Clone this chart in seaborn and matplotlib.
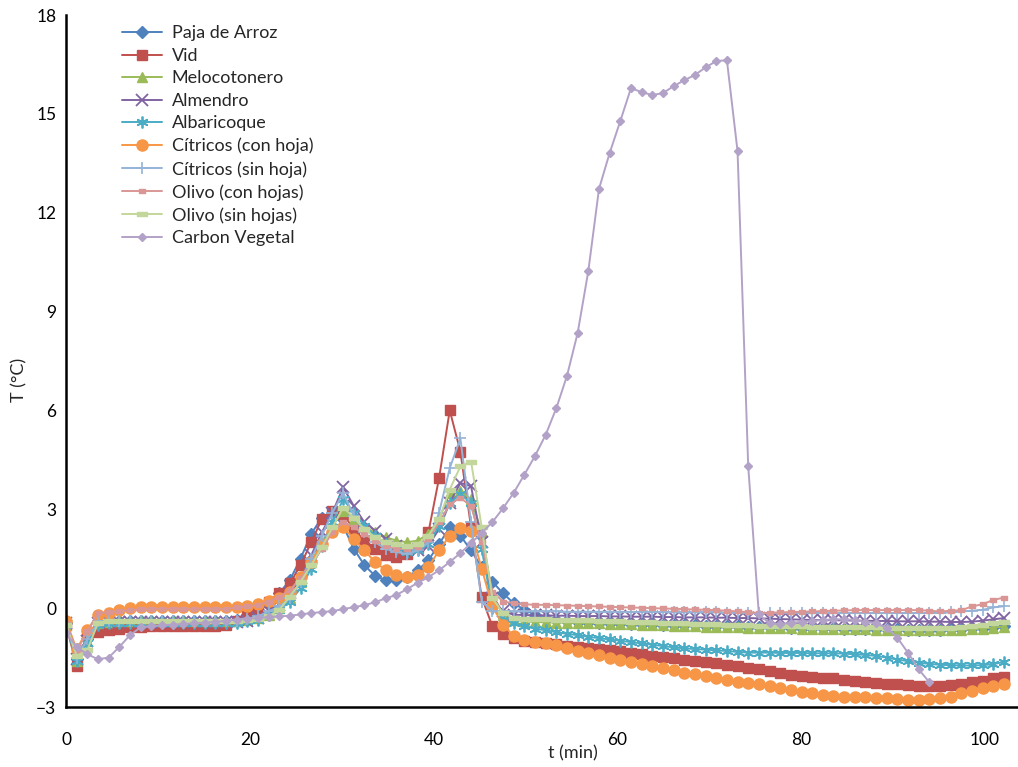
import matplotlib
matplotlib.use("Agg")
import matplotlib.pyplot as plt
import numpy as np
import seaborn as sns

# ── data: temperature increment (°C) logged every ~70 s ─────────────────────
STEP_MIN = 1.16

labels = [
    "Paja de Arroz", "Vid", "Melocotonero", "Almendro", "Albaricoque",
    "Cítricos (con hoja)", "Cítricos (sin hoja)", "Olivo (con hojas)",
    "Olivo (sin hojas)", "Carbon Vegetal",
]

paja = [
    -0.45, -1.55, -0.95, -0.45, -0.42, -0.40, -0.40, -0.40, -0.40, -0.40,
    -0.40, -0.40, -0.40, -0.40, -0.40, -0.40, -0.35, -0.20, -0.05, 0.15,
    0.45, 0.85, 1.50, 2.25, 2.75, 2.90, 2.50, 1.80, 1.30, 0.98,
    0.85, 0.85, 0.95, 1.15, 1.45, 1.95, 2.45, 2.20, 1.75, 1.25,
    0.80, 0.45, 0.15, -0.05, -0.20, -0.30, -0.36, -0.40, -0.42, -0.43,
    -0.44, -0.45, -0.46, -0.47, -0.48, -0.49, -0.50, -0.50, -0.51, -0.52,
    -0.53, -0.54, -0.55, -0.55, -0.56, -0.57, -0.58, -0.58, -0.59, -0.60,
    -0.60, -0.61, -0.61, -0.62, -0.62, -0.63, -0.63, -0.64, -0.64, -0.65,
    -0.65, -0.65, -0.65, -0.64, -0.63, -0.61, -0.59, -0.56, -0.53,
]
vid = [
    -0.50, -1.75, -0.80, -0.73, -0.67, -0.62, -0.58, -0.56, -0.55, -0.55,
    -0.55, -0.55, -0.55, -0.55, -0.55, -0.50, -0.40, -0.20, 0.00, 0.20,
    0.45, 0.75, 1.30, 2.00, 2.70, 2.95, 2.85, 2.40, 2.05, 1.80,
    1.60, 1.55, 1.65, 1.85, 2.30, 3.95, 6.00, 4.75, 2.45, 0.33,
    -0.55, -0.78, -0.90, -1.00, -1.04, -1.07, -1.10, -1.14, -1.17, -1.20,
    -1.24, -1.27, -1.31, -1.36, -1.40, -1.44, -1.48, -1.52, -1.56, -1.60,
    -1.64, -1.67, -1.72, -1.77, -1.82, -1.86, -1.92, -1.98, -2.03, -2.06,
    -2.09, -2.11, -2.13, -2.17, -2.20, -2.24, -2.27, -2.29, -2.31, -2.33,
    -2.36, -2.37, -2.36, -2.34, -2.30, -2.25, -2.20, -2.13, -2.08,
]
melocotonero = [
    -0.50, -1.60, -1.00, -0.45, -0.42, -0.40, -0.40, -0.40, -0.40, -0.40,
    -0.40, -0.40, -0.40, -0.40, -0.40, -0.40, -0.38, -0.35, -0.30, -0.20,
    0.00, 0.30, 0.80, 1.40, 2.00, 2.50, 2.95, 2.70, 2.45, 2.30,
    2.15, 2.05, 2.00, 2.05, 2.25, 2.70, 3.50, 3.55, 3.30, 2.30,
    0.40, -0.20, -0.35, -0.40, -0.42, -0.43, -0.44, -0.44, -0.45, -0.45,
    -0.46, -0.47, -0.48, -0.49, -0.50, -0.51, -0.52, -0.53, -0.54, -0.55,
    -0.56, -0.57, -0.58, -0.58, -0.59, -0.60, -0.60, -0.61, -0.61, -0.62,
    -0.62, -0.62, -0.63, -0.63, -0.64, -0.64, -0.65, -0.65, -0.66, -0.66,
    -0.67, -0.67, -0.67, -0.67, -0.66, -0.64, -0.62, -0.59, -0.56,
]
almendro = [
    -0.45, -1.55, -1.00, -0.45, -0.42, -0.42, -0.42, -0.42, -0.42, -0.42,
    -0.42, -0.42, -0.42, -0.42, -0.42, -0.42, -0.42, -0.38, -0.30, -0.10,
    0.10, 0.45, 0.90, 1.60, 2.30, 2.90, 3.67, 3.10, 2.60, 2.35,
    2.10, 1.90, 1.75, 1.75, 1.90, 2.40, 3.20, 3.80, 3.70, 2.00,
    0.30, -0.10, -0.20, -0.21, -0.22, -0.22, -0.23, -0.23, -0.24, -0.24,
    -0.24, -0.25, -0.25, -0.26, -0.26, -0.26, -0.27, -0.27, -0.28, -0.28,
    -0.28, -0.29, -0.29, -0.30, -0.30, -0.31, -0.32, -0.33, -0.34, -0.35,
    -0.36, -0.36, -0.37, -0.37, -0.38, -0.38, -0.39, -0.39, -0.40, -0.40,
    -0.40, -0.41, -0.41, -0.42, -0.42, -0.41, -0.38, -0.34, -0.30,
]
albaricoque = [
    -0.50, -1.60, -1.05, -0.50, -0.45, -0.45, -0.45, -0.45, -0.45, -0.45,
    -0.45, -0.45, -0.45, -0.45, -0.45, -0.45, -0.45, -0.40, -0.35, -0.20,
    -0.05, 0.20, 0.60, 1.20, 1.90, 2.60, 3.30, 2.90, 2.50, 2.20,
    1.95, 1.80, 1.70, 1.75, 1.95, 2.50, 3.20, 3.45, 3.20, 1.80,
    0.00, -0.35, -0.46, -0.55, -0.62, -0.67, -0.73, -0.78, -0.82, -0.87,
    -0.91, -0.95, -0.99, -1.03, -1.07, -1.11, -1.15, -1.19, -1.22, -1.24,
    -1.26, -1.28, -1.30, -1.33, -1.35, -1.35, -1.35, -1.36, -1.36, -1.36,
    -1.37, -1.37, -1.37, -1.38, -1.40, -1.42, -1.45, -1.50, -1.56, -1.61,
    -1.66, -1.69, -1.72, -1.73, -1.74, -1.74, -1.73, -1.70, -1.63,
]
citricos_con = [
    -0.38, -1.25, -0.67, -0.20, -0.15, -0.06, 0.00, 0.03, 0.03, 0.03,
    0.03, 0.03, 0.03, 0.03, 0.03, 0.03, 0.03, 0.08, 0.12, 0.22,
    0.30, 0.50, 0.95, 1.40, 1.95, 2.30, 2.47, 2.10, 1.75, 1.40,
    1.15, 1.00, 0.95, 1.00, 1.25, 1.75, 2.20, 2.42, 2.35, 1.20,
    0.05, -0.50, -0.85, -0.97, -1.02, -1.07, -1.12, -1.22, -1.30, -1.36,
    -1.43, -1.50, -1.58, -1.63, -1.70, -1.76, -1.82, -1.87, -1.97, -2.00,
    -2.06, -2.12, -2.18, -2.23, -2.28, -2.30, -2.37, -2.43, -2.48, -2.54,
    -2.58, -2.64, -2.67, -2.70, -2.70, -2.70, -2.73, -2.73, -2.76, -2.79,
    -2.79, -2.76, -2.73, -2.70, -2.58, -2.52, -2.43, -2.37, -2.30,
]
citricos_sin = [
    -0.45, -1.50, -0.95, -0.40, -0.38, -0.38, -0.38, -0.38, -0.38, -0.38,
    -0.38, -0.38, -0.38, -0.38, -0.38, -0.38, -0.38, -0.33, -0.25, -0.10,
    0.05, 0.30, 0.80, 1.50, 2.20, 2.90, 3.50, 2.80, 2.30, 2.00,
    1.80, 1.70, 1.65, 1.75, 2.00, 2.90, 4.25, 5.15, 2.60, 0.20,
    -0.10, -0.10, -0.10, -0.10, -0.10, -0.10, -0.10, -0.11, -0.11, -0.11,
    -0.11, -0.11, -0.12, -0.12, -0.12, -0.12, -0.12, -0.13, -0.13, -0.13,
    -0.13, -0.13, -0.14, -0.14, -0.15, -0.15, -0.15, -0.15, -0.15, -0.15,
    -0.15, -0.15, -0.15, -0.15, -0.15, -0.15, -0.15, -0.15, -0.15, -0.15,
    -0.15, -0.15, -0.14, -0.13, -0.10, -0.08, -0.05, 0.02, 0.06,
]
olivo_con = [
    -0.45, -1.30, -0.70, -0.15, -0.12, -0.10, -0.06, -0.04, -0.02, -0.02,
    -0.02, -0.02, -0.02, -0.02, -0.02, -0.02, 0.02, 0.05, 0.10, 0.20,
    0.35, 0.55, 0.90, 1.30, 1.80, 2.30, 2.60, 2.45, 2.25, 2.05,
    1.90, 1.80, 1.80, 1.85, 2.10, 2.60, 3.15, 3.35, 3.10, 2.00,
    0.50, 0.20, 0.15, 0.12, 0.10, 0.10, 0.09, 0.08, 0.07, 0.06,
    0.05, 0.04, 0.03, 0.02, 0.01, 0.00, -0.01, -0.02, -0.03, -0.04,
    -0.05, -0.06, -0.08, -0.10, -0.12, -0.15, -0.14, -0.13, -0.12, -0.11,
    -0.10, -0.09, -0.08, -0.07, -0.06, -0.06, -0.06, -0.06, -0.06, -0.06,
    -0.06, -0.08, -0.10, -0.08, -0.06, 0.05, 0.12, 0.25, 0.32,
]
olivo_sin = [
    -0.50, -1.45, -1.27, -0.45, -0.40, -0.38, -0.38, -0.38, -0.38, -0.38,
    -0.38, -0.38, -0.38, -0.38, -0.38, -0.38, -0.38, -0.36, -0.33, -0.25,
    -0.05, 0.35, 0.80, 1.30, 1.85, 2.45, 3.05, 2.75, 2.40, 2.15,
    2.00, 1.95, 1.90, 1.95, 2.20, 2.70, 3.60, 4.30, 4.45, 2.45,
    0.30, -0.15, -0.30, -0.32, -0.33, -0.34, -0.35, -0.36, -0.37, -0.37,
    -0.38, -0.39, -0.40, -0.41, -0.42, -0.43, -0.44, -0.45, -0.46, -0.47,
    -0.48, -0.49, -0.50, -0.51, -0.52, -0.53, -0.54, -0.54, -0.55, -0.55,
    -0.56, -0.56, -0.57, -0.57, -0.57, -0.58, -0.58, -0.59, -0.59, -0.60,
    -0.60, -0.60, -0.60, -0.59, -0.57, -0.54, -0.50, -0.46, -0.42,
]
carbon = [
    -0.76, -1.18, -1.40, -1.55, -1.50, -1.18, -0.82, -0.58, -0.55, -0.52,
    -0.50, -0.48, -0.46, -0.44, -0.42, -0.38, -0.35, -0.32, -0.30, -0.27,
    -0.25, -0.23, -0.19, -0.15, -0.12, -0.09, -0.03, 0.03, 0.09, 0.18,
    0.30, 0.40, 0.58, 0.77, 0.94, 1.15, 1.40, 1.67, 1.97, 2.28,
    2.61, 3.03, 3.50, 4.05, 4.62, 5.26, 6.07, 7.05, 8.35, 10.23,
    12.72, 13.81, 14.78, 15.78, 15.66, 15.57, 15.63, 15.84, 16.02, 16.18,
    16.41, 16.60, 16.63, 13.87, 4.31, -0.19, -0.46, -0.49, -0.44, -0.42,
    -0.39, -0.36, -0.34, -0.34, -0.36, -0.42, -0.46, -0.60, -0.90, -1.36,
    -1.86, -2.25,
]

series = [paja, vid, melocotonero, almendro, albaricoque,
          citricos_con, citricos_sin, olivo_con, olivo_sin, carbon]

# ── Excel 2007 style per series: colour, marker, size, edge width ──────────
short_dash = [(-1, -0.6), (1, -0.6), (1, 0.6), (-1, 0.6), (-1, -0.6)]
long_dash = [(-1, -0.4), (1, -0.4), (1, 0.4), (-1, 0.4), (-1, -0.4)]
styles = {
    "Paja de Arroz":       ("#4F81BD", "D", 6.5, 1.0),
    "Vid":                 ("#C0504D", "s", 7.0, 1.0),
    "Melocotonero":        ("#9BBB59", "^", 7.5, 1.0),
    "Almendro":            ("#8064A2", "x", 8.0, 1.3),
    "Albaricoque":         ("#4BACC6", (6, 2, 0), 8.5, 1.3),
    "Cítricos (con hoja)": ("#F79646", "o", 8.0, 1.0),
    "Cítricos (sin hoja)": ("#95B3D7", "+", 9.0, 1.2),
    "Olivo (con hojas)":   ("#D99694", short_dash, 5.0, 1.0),
    "Olivo (sin hojas)":   ("#C3D69B", long_dash, 7.5, 1.0),
    "Carbon Vegetal":      ("#B3A2C7", "D", 4.5, 1.0),
}

sns.set_style("white")
plt.rcParams["font.family"] = ["Lato", "DejaVu Sans"]

fig = plt.figure(figsize=(10.18, 7.67), dpi=100)
ax = fig.add_axes([66 / 1018, 60 / 767, 952 / 1018, 692 / 767])

for name, vals in zip(labels, series):
    color, marker, ms, mew = styles[name]
    t = np.arange(len(vals)) * STEP_MIN
    sns.lineplot(
        x=t, y=vals, ax=ax, label=name, color=color, linewidth=1.4,
        marker=marker, markersize=ms, markeredgecolor=color,
        markerfacecolor=color, markeredgewidth=mew, errorbar=None,
    )

ax.set_xlim(0, 103.6)
ax.set_ylim(-3, 18)
ax.set_xticks(range(0, 101, 20))
ax.set_yticks(range(-3, 19, 3))

for side in ("top", "right"):
    ax.spines[side].set_visible(False)
for side in ("left", "bottom"):
    ax.spines[side].set_linewidth(1.8)
    ax.spines[side].set_color("black")

ax.tick_params(axis="both", direction="out", length=4, width=1.3,
               colors="black", labelsize=12.5)
ax.tick_params(axis="x", pad=14)
ax.tick_params(axis="y", pad=3)

ax.set_xlabel("t (min)", fontsize=13)
ax.xaxis.set_label_coords(0.5326, -0.056)
ax.set_ylabel("T (°C)", fontsize=13)
ax.yaxis.set_label_coords(-0.040, 0.4725)

ax.legend(
    loc="upper left", bbox_to_anchor=(0.0588, 0.985), frameon=False,
    fontsize=13, borderpad=0, borderaxespad=0, handlelength=2.2,
    handletextpad=0.55, labelspacing=0.36, numpoints=1,
)

fig.savefig("out.png", dpi=100)
